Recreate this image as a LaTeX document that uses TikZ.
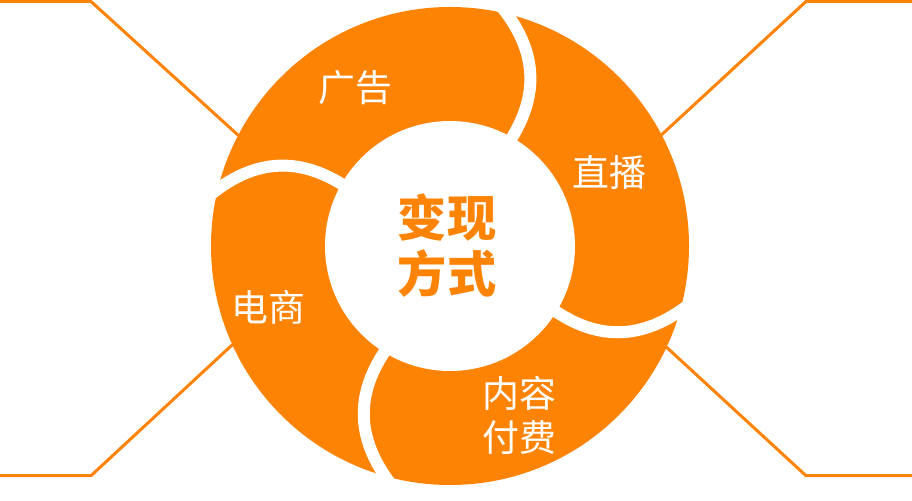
\documentclass[tikz,border=0pt]{standalone}
\usepackage{fontspec}
\newfontfamily\cjk{Noto Sans CJK SC}
\usetikzlibrary{calc}
\definecolor{ringorange}{RGB}{253,131,4}

\begin{document}
\begin{tikzpicture}[x=0.02cm,y=0.02cm,
    edge line/.style={draw=ringorange, line width=0.06cm},
    gap/.style={draw=white, line width=0.24cm, shorten <=-8pt, shorten >=-8pt},
    ring label/.style={text=white, align=center, inner sep=0pt,
        font=\cjk\fontsize{21}{25}\selectfont},
    hub label/.style={text=ringorange, align=center, inner sep=0pt,
        font=\cjk\bfseries\fontsize{28}{32}\selectfont}]
    \useasboundingbox (0,0) rectangle (912,500);
    \coordinate (c) at (450,254);

    % corner lines
    \coordinate (tl start) at (0,498.5);
    \coordinate (tl bend) at (91,498.5);
    \coordinate (tl end) at ($(c)+(152.4:239)$);
    \coordinate (bl start) at (0,24.3);
    \coordinate (bl bend) at (91,24.3);
    \coordinate (bl end) at ($(c)+(204.4:239)$);
    \coordinate (tr start) at (912,498.5);
    \coordinate (tr bend) at (806,498.5);
    \coordinate (tr end) at ($(c)+(27.6:237)$);
    \coordinate (br start) at (912,24.3);
    \coordinate (br bend) at (806,24.3);
    \coordinate (br end) at ($(c)+(-24.9:237)$);
    \draw[edge line] (tl start) -- (tl bend) -- (tl end);
    \draw[edge line] (bl start) -- (bl bend) -- (bl end);
    \draw[edge line] (tr start) -- (tr bend) -- (tr end);
    \draw[edge line] (br start) -- (br bend) -- (br end);

    % ring with curved gaps
    \fill[ringorange] (c) circle (239);
    \foreach \p in {65,-27,-117,155}
        \draw[gap] ($(c)+(\p-5:125)$) to[bend right=38] ($(c)+(\p+11:239)$);
    \fill[white] (c) circle (125);

    % labels
    \node[ring label] (ad) at (355,412) {广告};
    \node[ring label] (live) at (609,328) {直播};
    \node[ring label] (shop) at (268,193) {电商};
    \node[ring label] (paid) at (519,85) {内容\\付费};
    \node[hub label] (hub) at (447,254) {变现\\方式};
\end{tikzpicture}
\end{document}
